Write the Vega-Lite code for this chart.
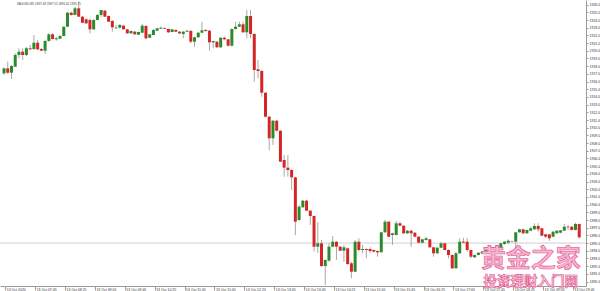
{
  "$schema": "https://vega.github.io/schema/vega-lite/v6.json",
  "width": 586,
  "height": 286,
  "autosize": {"type": "none"},
  "padding": {"left": 0, "top": 0, "right": 14, "bottom": 5},
  "background": "white",
  "config": {"view": {"stroke": null}, "axis": {"grid": false, "labelFont": "Liberation Sans", "labelOverlap": false}},
  "data": {
    "format": {"parse": {"t": "utc:'%Y-%m-%d %H:%M'"}},
    "values": [
      {"t":"2020-10-13 07:00","o":1917.07,"h":1917.80,"l":1916.85,"c":1917.72},
      {"t":"2020-10-13 07:05","o":1917.72,"h":1918.58,"l":1916.98,"c":1917.15},
      {"t":"2020-10-13 07:10","o":1917.15,"h":1918.15,"l":1916.33,"c":1918.02},
      {"t":"2020-10-13 07:15","o":1917.93,"h":1919.67,"l":1917.89,"c":1919.45},
      {"t":"2020-10-13 07:20","o":1919.45,"h":1920.32,"l":1919.02,"c":1919.88},
      {"t":"2020-10-13 07:25","o":1919.88,"h":1920.32,"l":1918.80,"c":1919.45},
      {"t":"2020-10-13 07:30","o":1919.45,"h":1920.49,"l":1919.32,"c":1920.32},
      {"t":"2020-10-13 07:35","o":1920.32,"h":1920.75,"l":1920.10,"c":1920.19},
      {"t":"2020-10-13 07:40","o":1920.23,"h":1922.05,"l":1920.10,"c":1921.05},
      {"t":"2020-10-13 07:45","o":1921.05,"h":1921.40,"l":1920.10,"c":1920.19},
      {"t":"2020-10-13 07:50","o":1920.23,"h":1920.36,"l":1919.97,"c":1920.01},
      {"t":"2020-10-13 07:55","o":1920.01,"h":1921.40,"l":1919.58,"c":1921.27},
      {"t":"2020-10-13 08:00","o":1921.27,"h":1922.27,"l":1921.18,"c":1922.14},
      {"t":"2020-10-13 08:05","o":1922.14,"h":1922.27,"l":1921.49,"c":1921.53},
      {"t":"2020-10-13 08:10","o":1921.49,"h":1921.83,"l":1921.31,"c":1921.62},
      {"t":"2020-10-13 08:15","o":1921.57,"h":1922.05,"l":1921.53,"c":1921.92},
      {"t":"2020-10-13 08:20","o":1921.92,"h":1923.22,"l":1921.86,"c":1923.13},
      {"t":"2020-10-13 08:25","o":1923.13,"h":1925.04,"l":1923.09,"c":1924.95},
      {"t":"2020-10-13 08:30","o":1924.95,"h":1925.08,"l":1924.56,"c":1924.65},
      {"t":"2020-10-13 08:35","o":1924.65,"h":1925.73,"l":1924.65,"c":1925.52},
      {"t":"2020-10-13 08:40","o":1925.52,"h":1926.38,"l":1924.43,"c":1924.43},
      {"t":"2020-10-13 08:45","o":1924.43,"h":1924.52,"l":1923.61,"c":1923.65},
      {"t":"2020-10-13 08:50","o":1924.09,"h":1924.22,"l":1923.48,"c":1923.57},
      {"t":"2020-10-13 08:55","o":1924.00,"h":1924.22,"l":1922.27,"c":1922.79},
      {"t":"2020-10-13 09:00","o":1922.79,"h":1924.13,"l":1922.70,"c":1924.00},
      {"t":"2020-10-13 09:05","o":1924.00,"h":1924.78,"l":1923.94,"c":1924.65},
      {"t":"2020-10-13 09:10","o":1924.65,"h":1925.30,"l":1924.43,"c":1925.30},
      {"t":"2020-10-13 09:15","o":1925.21,"h":1925.30,"l":1924.39,"c":1924.43},
      {"t":"2020-10-13 09:20","o":1924.52,"h":1924.59,"l":1923.74,"c":1923.78},
      {"t":"2020-10-13 09:25","o":1923.87,"h":1924.00,"l":1922.48,"c":1923.05},
      {"t":"2020-10-13 09:30","o":1922.92,"h":1923.35,"l":1922.83,"c":1923.00},
      {"t":"2020-10-13 09:35","o":1923.00,"h":1923.48,"l":1922.92,"c":1923.35},
      {"t":"2020-10-13 09:40","o":1923.26,"h":1923.35,"l":1922.74,"c":1922.79},
      {"t":"2020-10-13 09:45","o":1922.79,"h":1922.83,"l":1922.18,"c":1922.27},
      {"t":"2020-10-13 09:50","o":1922.27,"h":1922.66,"l":1922.18,"c":1922.57},
      {"t":"2020-10-13 09:55","o":1922.48,"h":1922.57,"l":1922.09,"c":1922.14},
      {"t":"2020-10-13 10:00","o":1922.09,"h":1922.48,"l":1922.05,"c":1922.44},
      {"t":"2020-10-13 10:05","o":1922.35,"h":1923.48,"l":1922.27,"c":1923.26},
      {"t":"2020-10-13 10:10","o":1923.22,"h":1923.35,"l":1921.49,"c":1921.62},
      {"t":"2020-10-13 10:15","o":1921.70,"h":1922.18,"l":1921.62,"c":1922.14},
      {"t":"2020-10-13 10:20","o":1922.05,"h":1922.83,"l":1921.99,"c":1922.70},
      {"t":"2020-10-13 10:25","o":1922.61,"h":1922.96,"l":1922.57,"c":1922.92},
      {"t":"2020-10-13 10:30","o":1922.87,"h":1923.16,"l":1922.83,"c":1923.00},
      {"t":"2020-10-13 10:35","o":1922.96,"h":1923.05,"l":1922.83,"c":1922.87},
      {"t":"2020-10-13 10:40","o":1922.83,"h":1922.90,"l":1922.31,"c":1922.40},
      {"t":"2020-10-13 10:45","o":1922.44,"h":1922.83,"l":1922.40,"c":1922.79},
      {"t":"2020-10-13 10:50","o":1922.70,"h":1922.79,"l":1922.44,"c":1922.48},
      {"t":"2020-10-13 10:55","o":1922.48,"h":1922.57,"l":1922.18,"c":1922.27},
      {"t":"2020-10-13 11:00","o":1922.18,"h":1922.57,"l":1921.62,"c":1922.48},
      {"t":"2020-10-13 11:05","o":1922.48,"h":1922.70,"l":1922.44,"c":1922.61},
      {"t":"2020-10-13 11:10","o":1922.57,"h":1922.70,"l":1920.97,"c":1921.18},
      {"t":"2020-10-13 11:15","o":1921.18,"h":1921.83,"l":1920.53,"c":1921.75},
      {"t":"2020-10-13 11:20","o":1921.75,"h":1922.44,"l":1921.70,"c":1922.35},
      {"t":"2020-10-13 11:25","o":1922.35,"h":1923.78,"l":1922.31,"c":1922.66},
      {"t":"2020-10-13 11:30","o":1922.70,"h":1922.83,"l":1922.48,"c":1922.57},
      {"t":"2020-10-13 11:35","o":1922.61,"h":1922.70,"l":1920.01,"c":1921.10},
      {"t":"2020-10-13 11:40","o":1921.10,"h":1921.31,"l":1920.32,"c":1921.27},
      {"t":"2020-10-13 11:45","o":1921.18,"h":1921.27,"l":1920.36,"c":1920.45},
      {"t":"2020-10-13 11:50","o":1920.45,"h":1921.75,"l":1920.36,"c":1921.70},
      {"t":"2020-10-13 11:55","o":1921.70,"h":1921.83,"l":1921.40,"c":1921.49},
      {"t":"2020-10-13 12:00","o":1921.49,"h":1921.53,"l":1920.53,"c":1920.66},
      {"t":"2020-10-13 12:05","o":1920.66,"h":1922.87,"l":1920.53,"c":1922.83},
      {"t":"2020-10-13 12:10","o":1922.83,"h":1923.78,"l":1922.79,"c":1923.13},
      {"t":"2020-10-13 12:15","o":1923.13,"h":1923.78,"l":1923.09,"c":1923.44},
      {"t":"2020-10-13 12:20","o":1923.44,"h":1923.78,"l":1922.35,"c":1922.40},
      {"t":"2020-10-13 12:25","o":1922.40,"h":1925.30,"l":1921.62,"c":1924.52},
      {"t":"2020-10-13 12:30","o":1924.52,"h":1925.30,"l":1921.62,"c":1922.18},
      {"t":"2020-10-13 12:35","o":1922.18,"h":1922.27,"l":1915.98,"c":1917.50},
      {"t":"2020-10-13 12:40","o":1917.59,"h":1918.80,"l":1916.42,"c":1917.37},
      {"t":"2020-10-13 12:45","o":1917.37,"h":1917.50,"l":1914.03,"c":1914.55},
      {"t":"2020-10-13 12:50","o":1914.55,"h":1914.60,"l":1911.30,"c":1911.43},
      {"t":"2020-10-13 12:55","o":1911.43,"h":1911.50,"l":1907.10,"c":1908.62},
      {"t":"2020-10-13 13:00","o":1908.62,"h":1911.00,"l":1907.75,"c":1910.91},
      {"t":"2020-10-13 13:05","o":1910.91,"h":1911.00,"l":1909.50,"c":1909.61},
      {"t":"2020-10-13 13:10","o":1909.61,"h":1909.65,"l":1905.54,"c":1905.58},
      {"t":"2020-10-13 13:15","o":1905.80,"h":1906.45,"l":1903.63,"c":1904.80},
      {"t":"2020-10-13 13:20","o":1904.80,"h":1906.45,"l":1903.63,"c":1904.50},
      {"t":"2020-10-13 13:25","o":1904.50,"h":1904.60,"l":1901.90,"c":1903.55},
      {"t":"2020-10-13 13:30","o":1903.55,"h":1903.60,"l":1896.05,"c":1897.78},
      {"t":"2020-10-13 13:35","o":1898.00,"h":1899.95,"l":1897.87,"c":1899.73},
      {"t":"2020-10-13 13:40","o":1899.65,"h":1900.60,"l":1899.60,"c":1900.51},
      {"t":"2020-10-13 13:45","o":1900.51,"h":1900.60,"l":1899.15,"c":1899.21},
      {"t":"2020-10-13 13:50","o":1899.21,"h":1899.30,"l":1897.35,"c":1898.52},
      {"t":"2020-10-13 13:55","o":1898.52,"h":1898.60,"l":1893.88,"c":1894.53},
      {"t":"2020-10-13 14:00","o":1894.53,"h":1897.74,"l":1893.71,"c":1894.97},
      {"t":"2020-10-13 14:05","o":1894.97,"h":1895.40,"l":1891.89,"c":1892.02},
      {"t":"2020-10-13 14:10","o":1892.02,"h":1892.90,"l":1889.55,"c":1892.80},
      {"t":"2020-10-13 14:15","o":1892.71,"h":1894.97,"l":1892.58,"c":1894.53},
      {"t":"2020-10-13 14:20","o":1894.53,"h":1895.92,"l":1894.45,"c":1895.18},
      {"t":"2020-10-13 14:25","o":1895.18,"h":1895.25,"l":1892.80,"c":1894.53},
      {"t":"2020-10-13 14:30","o":1894.53,"h":1894.60,"l":1893.95,"c":1894.01},
      {"t":"2020-10-13 14:35","o":1894.01,"h":1894.75,"l":1892.58,"c":1894.45},
      {"t":"2020-10-13 14:40","o":1894.32,"h":1894.40,"l":1892.15,"c":1892.28},
      {"t":"2020-10-13 14:45","o":1892.37,"h":1892.58,"l":1890.42,"c":1891.28},
      {"t":"2020-10-13 14:50","o":1891.28,"h":1895.40,"l":1891.20,"c":1895.18},
      {"t":"2020-10-13 14:55","o":1895.18,"h":1895.62,"l":1893.88,"c":1894.10},
      {"t":"2020-10-13 15:00","o":1894.10,"h":1894.75,"l":1893.67,"c":1894.23},
      {"t":"2020-10-13 15:05","o":1894.23,"h":1894.30,"l":1893.02,"c":1894.10},
      {"t":"2020-10-13 15:10","o":1894.23,"h":1894.45,"l":1893.67,"c":1893.97},
      {"t":"2020-10-13 15:15","o":1894.10,"h":1894.15,"l":1893.80,"c":1893.88},
      {"t":"2020-10-13 15:20","o":1893.97,"h":1894.05,"l":1893.23,"c":1893.80},
      {"t":"2020-10-13 15:25","o":1893.80,"h":1896.48,"l":1893.75,"c":1896.40},
      {"t":"2020-10-13 15:30","o":1896.40,"h":1898.00,"l":1896.35,"c":1897.78},
      {"t":"2020-10-13 15:35","o":1897.78,"h":1897.85,"l":1895.75,"c":1895.83},
      {"t":"2020-10-13 15:40","o":1896.05,"h":1896.35,"l":1894.75,"c":1896.27},
      {"t":"2020-10-13 15:45","o":1896.05,"h":1897.91,"l":1896.00,"c":1897.57},
      {"t":"2020-10-13 15:50","o":1897.57,"h":1897.78,"l":1897.20,"c":1897.26},
      {"t":"2020-10-13 15:55","o":1897.26,"h":1897.30,"l":1896.20,"c":1896.27},
      {"t":"2020-10-13 16:00","o":1896.27,"h":1896.70,"l":1896.20,"c":1896.61},
      {"t":"2020-10-13 16:05","o":1896.61,"h":1896.70,"l":1894.53,"c":1896.27},
      {"t":"2020-10-13 16:10","o":1896.35,"h":1896.40,"l":1895.75,"c":1895.83},
      {"t":"2020-10-13 16:15","o":1895.83,"h":1895.90,"l":1894.97,"c":1895.05},
      {"t":"2020-10-13 16:20","o":1895.05,"h":1895.55,"l":1894.97,"c":1895.49},
      {"t":"2020-10-13 16:25","o":1895.40,"h":1895.83,"l":1895.35,"c":1895.62},
      {"t":"2020-10-13 16:30","o":1895.49,"h":1895.55,"l":1894.40,"c":1894.45},
      {"t":"2020-10-13 16:35","o":1894.45,"h":1894.50,"l":1893.23,"c":1893.67},
      {"t":"2020-10-13 16:40","o":1893.67,"h":1894.45,"l":1893.60,"c":1894.40},
      {"t":"2020-10-13 16:45","o":1894.40,"h":1895.18,"l":1894.35,"c":1894.97},
      {"t":"2020-10-13 16:50","o":1894.97,"h":1895.05,"l":1894.05,"c":1894.10},
      {"t":"2020-10-13 16:55","o":1894.10,"h":1894.19,"l":1893.02,"c":1893.45},
      {"t":"2020-10-13 17:00","o":1893.45,"h":1893.50,"l":1891.63,"c":1891.72},
      {"t":"2020-10-13 17:05","o":1891.72,"h":1893.88,"l":1891.65,"c":1893.67},
      {"t":"2020-10-13 17:10","o":1893.67,"h":1895.62,"l":1893.60,"c":1895.18},
      {"t":"2020-10-13 17:15","o":1895.18,"h":1895.70,"l":1895.00,"c":1895.05},
      {"t":"2020-10-13 17:20","o":1895.18,"h":1895.62,"l":1893.88,"c":1894.10},
      {"t":"2020-10-13 17:25","o":1894.10,"h":1894.15,"l":1893.02,"c":1893.23},
      {"t":"2020-10-13 17:30","o":1893.15,"h":1893.50,"l":1893.06,"c":1893.45},
      {"t":"2020-10-13 17:35","o":1893.45,"h":1893.80,"l":1893.40,"c":1893.75},
      {"t":"2020-10-13 17:40","o":1893.67,"h":1893.95,"l":1893.60,"c":1893.88},
      {"t":"2020-10-13 17:45","o":1893.84,"h":1894.15,"l":1893.80,"c":1894.10},
      {"t":"2020-10-13 17:50","o":1894.23,"h":1894.30,"l":1894.05,"c":1894.10},
      {"t":"2020-10-13 17:55","o":1894.17,"h":1894.50,"l":1894.10,"c":1894.43},
      {"t":"2020-10-13 18:00","o":1894.43,"h":1894.75,"l":1894.40,"c":1894.69},
      {"t":"2020-10-13 18:05","o":1894.32,"h":1895.05,"l":1894.25,"c":1894.97},
      {"t":"2020-10-13 18:10","o":1894.88,"h":1895.25,"l":1894.80,"c":1895.18},
      {"t":"2020-10-13 18:15","o":1895.05,"h":1895.49,"l":1894.88,"c":1895.31},
      {"t":"2020-10-13 18:20","o":1895.23,"h":1895.30,"l":1895.10,"c":1895.18},
      {"t":"2020-10-13 18:25","o":1895.18,"h":1896.45,"l":1894.10,"c":1896.40},
      {"t":"2020-10-13 18:30","o":1896.40,"h":1896.85,"l":1896.35,"c":1896.79},
      {"t":"2020-10-13 18:35","o":1896.79,"h":1896.85,"l":1896.20,"c":1896.27},
      {"t":"2020-10-13 18:40","o":1896.27,"h":1896.75,"l":1896.18,"c":1896.70},
      {"t":"2020-10-13 18:45","o":1896.61,"h":1897.13,"l":1896.55,"c":1896.92},
      {"t":"2020-10-13 18:50","o":1896.79,"h":1897.57,"l":1896.75,"c":1897.22},
      {"t":"2020-10-13 18:55","o":1897.22,"h":1897.57,"l":1896.48,"c":1896.79},
      {"t":"2020-10-13 19:00","o":1896.92,"h":1897.00,"l":1895.90,"c":1895.96},
      {"t":"2020-10-13 19:05","o":1896.14,"h":1896.20,"l":1895.62,"c":1895.83},
      {"t":"2020-10-13 19:10","o":1896.14,"h":1896.20,"l":1895.27,"c":1895.62},
      {"t":"2020-10-13 19:15","o":1895.83,"h":1896.55,"l":1895.75,"c":1896.48},
      {"t":"2020-10-13 19:20","o":1896.27,"h":1896.70,"l":1896.20,"c":1896.61},
      {"t":"2020-10-13 19:25","o":1896.35,"h":1896.70,"l":1896.28,"c":1896.66},
      {"t":"2020-10-13 19:30","o":1896.61,"h":1897.48,"l":1896.55,"c":1897.13},
      {"t":"2020-10-13 19:35","o":1897.13,"h":1897.35,"l":1896.70,"c":1897.05},
      {"t":"2020-10-13 19:40","o":1897.13,"h":1897.20,"l":1896.65,"c":1896.70},
      {"t":"2020-10-13 19:45","o":1896.70,"h":1897.65,"l":1896.65,"c":1897.48},
      {"t":"2020-10-13 19:50","o":1897.48,"h":1897.55,"l":1895.62,"c":1895.75}
    ]
  },
  "layer": [
    {
      "data": {"values": [{}]},
      "mark": {"type": "rule", "color": "#cfcfcf", "strokeWidth": 1},
      "encoding": {
        "y": {"datum": 1895.0, "type": "quantitative", "scale": {"domain": [1889.42, 1926.6], "nice": false, "zero": false}}
      }
    },
    {
      "mark": {"type": "rule", "color": "#a9a9a9", "strokeWidth": 1, "clip": true},
      "encoding": {
        "x": {
          "field": "t", "type": "temporal",
          "scale": {"type": "utc", "nice": false, "domain": [
            {"year": 2020, "month": 10, "date": 13, "hours": 7, "minutes": 1, "seconds": 19, "utc": true},
            {"year": 2020, "month": 10, "date": 13, "hours": 19, "minutes": 52, "seconds": 22, "utc": true}
          ]},
          "axis": {
            "title": null,
            "tickCount": 40,
            "values": [
              {"year": 2020, "month": 10, "date": 13, "hours": 7, "minutes": 5, "utc": true},
              {"year": 2020, "month": 10, "date": 13, "hours": 7, "minutes": 45, "utc": true},
              {"year": 2020, "month": 10, "date": 13, "hours": 8, "minutes": 25, "utc": true},
              {"year": 2020, "month": 10, "date": 13, "hours": 9, "minutes": 5, "utc": true},
              {"year": 2020, "month": 10, "date": 13, "hours": 9, "minutes": 45, "utc": true},
              {"year": 2020, "month": 10, "date": 13, "hours": 10, "minutes": 25, "utc": true},
              {"year": 2020, "month": 10, "date": 13, "hours": 11, "minutes": 5, "utc": true},
              {"year": 2020, "month": 10, "date": 13, "hours": 11, "minutes": 45, "utc": true},
              {"year": 2020, "month": 10, "date": 13, "hours": 12, "minutes": 25, "utc": true},
              {"year": 2020, "month": 10, "date": 13, "hours": 13, "minutes": 5, "utc": true},
              {"year": 2020, "month": 10, "date": 13, "hours": 13, "minutes": 45, "utc": true},
              {"year": 2020, "month": 10, "date": 13, "hours": 14, "minutes": 25, "utc": true},
              {"year": 2020, "month": 10, "date": 13, "hours": 15, "minutes": 5, "utc": true},
              {"year": 2020, "month": 10, "date": 13, "hours": 15, "minutes": 45, "utc": true},
              {"year": 2020, "month": 10, "date": 13, "hours": 16, "minutes": 25, "utc": true},
              {"year": 2020, "month": 10, "date": 13, "hours": 17, "minutes": 5, "utc": true},
              {"year": 2020, "month": 10, "date": 13, "hours": 17, "minutes": 45, "utc": true},
              {"year": 2020, "month": 10, "date": 13, "hours": 18, "minutes": 25, "utc": true},
              {"year": 2020, "month": 10, "date": 13, "hours": 19, "minutes": 5, "utc": true},
              {"year": 2020, "month": 10, "date": 13, "hours": 19, "minutes": 45, "utc": true}
            ],
            "labelExpr": "utcFormat(datum.value, '%H:%M') == '07:05' ? '13 Oct 2020' : utcFormat(datum.value, '%d %b %H:%M')",
            "labelFontSize": 3.5,
            "labelColor": "#333333",
            "labelAlign": "left",
            "labelBaseline": "top",
            "labelPadding": -3,
            "labelOffset": 1,
            "tickOffset": -2.5,
            "tickSize": 4,
            "tickColor": "#9a9a9a",
            "domainColor": "#9a9a9a",
            "labelOverlap": false,
            "labelFlush": false
          }
        },
        "y": {
          "field": "l", "type": "quantitative",
          "scale": {"domain": [1889.42, 1926.6], "nice": false, "zero": false},
          "axis": {
            "title": null,
            "orient": "right",
            "tickCount": 40,
            "format": ".2f",
            "labelFontSize": 3.5,
            "labelColor": "#333333",
            "labelPadding": 1,
            "tickSize": 2,
            "tickColor": "#9a9a9a",
            "domainColor": "#9a9a9a",
            "labelOverlap": false,
            "labelFlush": false
          }
        },
        "y2": {"field": "h"}
      }
    },
    {
      "mark": {"type": "bar", "size": 3, "clip": true},
      "encoding": {
        "x": {"field": "t", "type": "temporal"},
        "y": {"field": "o", "type": "quantitative"},
        "y2": {"field": "c"},
        "color": {"condition": {"test": "datum.c >= datum.o", "value": "#2b8a2b"}, "value": "#d42626"}
      }
    },
    {
      "data": {"values": [{}]},
      "mark": {"type": "text", "align": "left", "baseline": "middle", "fontSize": 3, "font": "Liberation Sans", "color": "#444444"},
      "encoding": {
        "x": {"datum": {"year": 2020, "month": 10, "date": 13, "hours": 7, "minutes": 17, "utc": true}, "type": "temporal"},
        "y": {"datum": 1926.15, "type": "quantitative"},
        "text": {"value": "XAUUSD,M5  1897.48 1897.55 1895.62 1895.75"}
      }
    },
    {
      "data": {"values": [{}]},
      "mark": {"type": "text", "align": "center", "baseline": "middle", "fontSize": 25, "fontWeight": "bold", "font": "Noto Sans CJK SC", "fill": "#f6b3cf", "stroke": "#e0568f", "strokeWidth": 0.6},
      "encoding": {
        "x": {"datum": {"year": 2020, "month": 10, "date": 13, "hours": 18, "minutes": 45, "utc": true}, "type": "temporal"},
        "y": {"datum": 1892.9, "type": "quantitative"},
        "text": {"value": "黄金之家"}
      }
    },
    {
      "data": {"values": [{}]},
      "mark": {"type": "text", "align": "center", "baseline": "middle", "fontSize": 13.5, "fontWeight": "bold", "font": "Noto Sans CJK SC", "fill": "#f8c4da", "stroke": "#e0568f", "strokeWidth": 0.6},
      "encoding": {
        "x": {"datum": {"year": 2020, "month": 10, "date": 13, "hours": 18, "minutes": 45, "utc": true}, "type": "temporal"},
        "y": {"datum": 1889.9, "type": "quantitative"},
        "text": {"value": "投资理财入门网"}
      }
    }
  ]
}
